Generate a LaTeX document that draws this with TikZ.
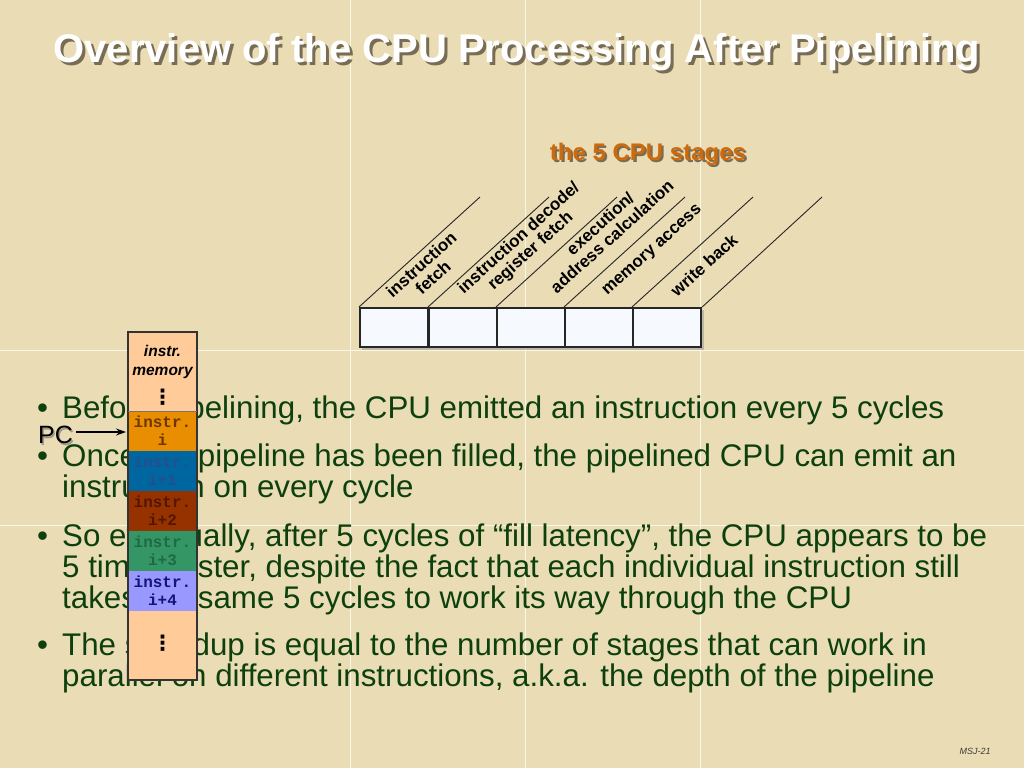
\documentclass[tikz,border=0pt]{standalone}
\usepackage{fontspec}
\setmainfont{Liberation Sans}
\newfontfamily\monofont{Liberation Mono}
\newfontfamily\dejavu{DejaVu Sans}
\usetikzlibrary{arrows.meta}
\definecolor{parch}{RGB}{234,221,182}
\definecolor{seam}{RGB}{250,246,232}
\definecolor{bodygreen}{RGB}{14,64,14}
\definecolor{stageorange}{RGB}{206,106,12}
\definecolor{txtshadow}{RGB}{120,108,84}
\definecolor{boxfill}{RGB}{246,250,255}
\definecolor{peach}{RGB}{255,204,153}
\definecolor{iorange}{RGB}{232,142,0}
\definecolor{iblue}{RGB}{0,102,160}
\definecolor{ibrown}{RGB}{150,50,0}
\definecolor{igreen}{RGB}{52,150,100}
\definecolor{ilav}{RGB}{152,152,255}
\definecolor{torange}{RGB}{110,55,0}
\definecolor{tblue}{RGB}{38,78,140}
\definecolor{tbrown}{RGB}{85,22,0}
\definecolor{tgreen}{RGB}{32,105,70}
\definecolor{tlav}{RGB}{20,20,120}
\definecolor{footgray}{RGB}{60,60,50}
\begin{document}
\begin{tikzpicture}[x=1pt,y=-1pt,
  bodytxt/.style={anchor=base west, inner sep=0pt, text=bodygreen, font=\fontsize{31.3}{31}\selectfont},
  stagebox/.style={draw=black!85, line width=2.2pt, fill=boxfill, minimum width=68pt, minimum height=39pt, inner sep=0pt, anchor=north west},
  stagelbl/.style={rotate=42, font=\bfseries\fontsize{17}{17.5}\selectfont, align=center, inner sep=0pt, text=black},
  memlbl/.style={anchor=base, inner sep=0pt, font=\monofont\bfseries\fontsize{16}{16}\selectfont},
  diag/.style={draw=black!85, line width=0.9pt},
  vdotsty/.style={inner sep=0pt, font=\dejavu\bfseries\fontsize{21}{21}\selectfont},
]
\useasboundingbox (0,0) rectangle (1024,768);
\fill[parch] (0,0) rectangle (1024,768);
% texture seams
\foreach \sx in {350,525,700} \draw[seam, line width=1pt] (\sx,0) -- (\sx,768);
\foreach \sy in {350,525} \draw[seam, line width=1pt] (0,\sy) -- (1024,\sy);

% title
\node[anchor=base, inner sep=0pt, text=txtshadow, font=\bfseries\fontsize{40}{40}\selectfont] (titleshadow) at (520,66) {Overview of the CPU Processing After Pipelining};
\node[anchor=base, inner sep=0pt, text=white, font=\bfseries\fontsize{40}{40}\selectfont] (title) at (517,63) {Overview of the CPU Processing After Pipelining};

% stage heading
\node[anchor=base, inner sep=0pt, text=txtshadow, font=\bfseries\fontsize{24}{24}\selectfont] (stagesshadow) at (650,162) {the 5 CPU stages};
\node[anchor=base, inner sep=0pt, text=stageorange, font=\bfseries\fontsize{24}{24}\selectfont] (stages) at (648,160) {the 5 CPU stages};

% stage boxes
\fill[black!40, opacity=0.55] (362,310) rectangle (704,350);
\node[stagebox] (s1) at (359,307) {};
\node[stagebox] (s2) at (428,307) {};
\node[stagebox] (s3) at (496,307) {};
\node[stagebox] (s4) at (564,307) {};
\node[stagebox] (s5) at (632,307) {};
\coordinate (t1) at (480,197);
\coordinate (t2) at (549,197);
\coordinate (t3) at (617,197);
\coordinate (t4) at (685,197);
\coordinate (t5) at (753,197);
\coordinate (t6) at (822,197);
\draw[diag] (s1.north west) -- (t1);
\draw[diag] (s2.north west) -- (t2);
\draw[diag] (s3.north west) -- (t3);
\draw[diag] (s4.north west) -- (t4);
\draw[diag] (s5.north west) -- (t5);
\draw[diag] (s5.north east) -- (t6);

\node[stagelbl] (lif) at (427,271) {instruction\\fetch};
\node[stagelbl] (lid) at (525,245) {instruction decode/\\register fetch};
\node[stagelbl] (lex) at (606,230) {execution/\\address calculation};
\node[stagelbl] (lmem) at (653,251) {memory access};
\node[stagelbl] (lwb) at (704,265) {write back};

% body text
\node[bodytxt] (b1) at (37,418) {•};
\node[bodytxt] (l1) at (62,418) {Before pipelining, the CPU emitted an instruction every 5 cycles};
\node[bodytxt] (b2) at (37,466) {•};
\node[bodytxt] (l2) at (62,466) {Once the pipeline has been filled, the pipelined CPU can emit an};
\node[bodytxt] (l3) at (62,497) {instruction on every cycle};
\node[bodytxt] (b3) at (37,546.5) {•};
\node[bodytxt] (l4) at (62,546.5) {So eventually, after 5 cycles of “fill latency”, the CPU appears to be};
\node[bodytxt] (l5) at (62,577) {5 times faster, despite the fact that each individual instruction still};
\node[bodytxt] (l6) at (62,608) {takes the same 5 cycles to work its way through the CPU};
\node[bodytxt] (b4) at (37,655.5) {•};
\node[bodytxt] (l7) at (62,655.5) {The speedup is equal to the number of stages that can work in};
\node[bodytxt] (l8) at (62,686) {parallel on different instructions, a.k.a. the depth of the pipeline};

% instruction memory column
\fill[peach] (128,332) rectangle (197,411);
\fill[iorange] (128,411) rectangle (197,451);
\fill[iblue] (128,451) rectangle (197,491);
\fill[ibrown] (128,491) rectangle (197,531);
\fill[igreen] (128,531) rectangle (197,571);
\fill[ilav] (128,571) rectangle (197,611);
\fill[peach] (128,611) rectangle (197,680);
\draw[black!80, line width=1.1pt] (128,332) rectangle (197,680);
\draw[black!55, line width=0.6pt] (128,411) -- (197,411);

\node[anchor=base, inner sep=0pt, font=\bfseries\itshape\fontsize{15.5}{15.5}\selectfont] (mh1) at (162.5,356) {instr.};
\node[anchor=base, inner sep=0pt, font=\bfseries\itshape\fontsize{15.5}{15.5}\selectfont] (mh2) at (162.5,375) {memory};
\node[vdotsty] (dots1) at (162.5,397) {⋮};
\node[vdotsty] (dots2) at (162.5,643) {⋮};

\node[memlbl, text=torange] (m1a) at (162.5,427) {instr.};
\node[memlbl, text=torange] (m1b) at (162.5,445.5) {i};
\node[memlbl, text=tblue] (m2a) at (162.5,467) {instr.};
\node[memlbl, text=tblue] (m2b) at (162.5,485.5) {i+1};
\node[memlbl, text=tbrown] (m3a) at (162.5,507) {instr.};
\node[memlbl, text=tbrown] (m3b) at (162.5,525.5) {i+2};
\node[memlbl, text=tgreen] (m4a) at (162.5,547) {instr.};
\node[memlbl, text=tgreen] (m4b) at (162.5,565.5) {i+3};
\node[memlbl, text=tlav] (m5a) at (162.5,587) {instr.};
\node[memlbl, text=tlav] (m5b) at (162.5,605.5) {i+4};

% PC pointer
\node[anchor=base west, inner sep=0pt, text=txtshadow!70, font=\fontsize{25}{25}\selectfont] (pcshadow) at (39.5,445) {PC};
\node[anchor=base west, inner sep=0pt, text=black, font=\fontsize{25}{25}\selectfont] (pc) at (38,443.5) {PC};
\coordinate (pctip) at (126,432);
\draw[line width=1.3pt, -{Stealth[length=10pt,width=7pt]}] (pc.east |- pctip) ++(3,0) -- (pctip);

% footer
\node[anchor=base, inner sep=0pt, text=footgray, font=\itshape\fontsize{9}{9}\selectfont] (foot) at (975,754) {MSJ-21};
\end{tikzpicture}
\end{document}
